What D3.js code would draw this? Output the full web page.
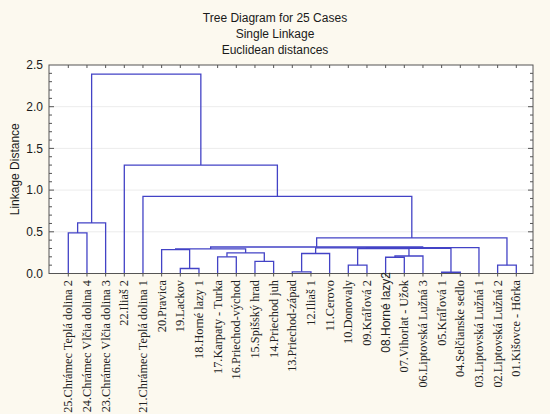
<!DOCTYPE html>
<html><head><meta charset="utf-8">
<script src="https://cdn.jsdelivr.net/npm/d3@7/dist/d3.min.js"></script>
<style>
html,body{margin:0;padding:0;background:#fcf9ef;}
svg{display:block;}
</style></head>
<body>
<svg id="chart" width="550" height="414"></svg>
<script>
// ---- data ----
const titleLines = ["Tree Diagram for 25 Cases", "Single Linkage", "Euclidean distances"];
const yAxisTitle = "Linkage Distance";
const yTicks = [0.0, 0.5, 1.0, 1.5, 2.0, 2.5];
// leaves in display order (left to right)
const leafLabels = [
  "25.Chrámec Teplá dolina 2",
  "24.Chrámec Vlčia dolina 4",
  "23.Chrámec Vlčia dolina 3",
  "22.Iliaš 2",
  "21.Chrámec Teplá dolina 1",
  "20.Pravica",
  "19.Lackov",
  "18.Horné lazy 1",
  "17.Karpaty - Turka",
  "16.Priechod-východ",
  "15.Spišský hrad",
  "14.Priechod  juh",
  "13.Priechod-západ",
  "12.Iliaš 1",
  "11.Cerovo",
  "10.Donovaly",
  "09.Kráľová 2",
  "08.Horné lazy2",
  "07.Vihorlat - Užok",
  "06.Liptovská Lužná 3",
  "05.Kráľová 1",
  "04.Selčianske sedlo",
  "03.Liptovská Lužná 1",
  "02.Liptovská Lužná 2",
  "01.Kišovce - Hôrka"
];
// merges: ids 0..24 are leaves, merge k creates id 25+k
const mergeLeft  = [20,12, 6,15,23,10,17, 8,31,26,32, 5,36,28,38,34,40,37,42, 4, 3, 0,46,47];
const mergeRight = [21,13, 7,16,24,11,18, 9,19,14,30,27,35,33,25,39,22,41,29,43,44, 1, 2,45];
const mergeHeight = [0.015,0.02,0.06,0.10,0.10,0.145,0.195,0.20,0.21,0.24,0.247,0.287,
                     0.295,0.300,0.303,0.307,0.311,0.318,0.427,0.925,1.30,0.487,0.606,2.39];

// ---- layout ----
const svg = d3.select("#chart");
const L = 49, R = 533, T = 65, B = 273.5;
const blue = "#4343c6";

const x = d3.scalePoint().domain(d3.range(leafLabels.length)).range([68.3, 516.3]);
const y = d3.scaleLinear().domain([0, 2.5]).range([B, T]);

// plot background
svg.append("rect").attr("x", L).attr("y", T).attr("width", R - L).attr("height", B - T).attr("fill", "#ffffff");

// gridlines
svg.append("g").selectAll("line").data(yTicks.filter(v => v > 0 && v < 2.5)).join("line")
  .attr("x1", L).attr("x2", R).attr("y1", d => y(d)).attr("y2", d => y(d))
  .attr("stroke", "#ececec").attr("stroke-width", 1);

// titles
svg.append("g").selectAll("text").data(titleLines).join("text")
  .attr("x", 275).attr("y", (d, i) => 22 + i * 16)
  .attr("text-anchor", "middle")
  .attr("font-family", "Liberation Sans, Arial, sans-serif").attr("font-size", 12)
  .attr("fill", "#1a1a1a").text(d => d);

// y axis (left)
const yAxis = d3.axisLeft(y).tickValues(yTicks).tickFormat(d3.format(".1f")).tickSize(0).tickPadding(6);
const gy = svg.append("g").attr("transform", `translate(${L},0)`).call(yAxis);
gy.select(".domain").remove();
gy.selectAll("text").attr("font-family", "Liberation Sans, Arial, sans-serif").attr("font-size", 12).attr("fill", "#1a1a1a");

const minor = d3.range(0, 25).map(i => i / 10);
svg.append("g").selectAll("line").data(minor).join("line")
  .attr("x1", L).attr("x2", d => L + (Math.abs(d * 2 - Math.round(d * 2)) < 1e-6 ? 5 : 3))
  .attr("y1", d => y(d)).attr("y2", d => y(d)).attr("stroke", "#555");
svg.append("g").selectAll("line").data(minor).join("line")
  .attr("x1", R).attr("x2", d => R - (Math.abs(d * 2 - Math.round(d * 2)) < 1e-6 ? 5 : 3))
  .attr("y1", d => y(d)).attr("y2", d => y(d)).attr("stroke", "#555");

// top ticks at leaf positions
svg.append("g").selectAll("line").data(d3.range(leafLabels.length)).join("line")
  .attr("x1", d => x(d)).attr("x2", d => x(d)).attr("y1", T).attr("y2", T + 3).attr("stroke", "#555");
// bottom ticks
svg.append("g").selectAll("line").data(d3.range(leafLabels.length)).join("line")
  .attr("x1", d => x(d)).attr("x2", d => x(d)).attr("y1", B).attr("y2", B + 3).attr("stroke", "#555");

// y axis title
svg.append("text").attr("transform", `translate(19,${(T + B) / 2}) rotate(-90)`)
  .attr("text-anchor", "middle")
  .attr("font-family", "Liberation Sans, Arial, sans-serif").attr("font-size", 12)
  .attr("fill", "#1a1a1a").text(yAxisTitle);

// ---- dendrogram ----
const nodeX = leafLabels.map((_, i) => x(i));
const nodeH = leafLabels.map(() => 0);
const paths = [];
mergeLeft.forEach((a, k) => {
  const b = mergeRight[k], h = mergeHeight[k];
  paths.push({a, b, h});
  nodeX.push((nodeX[a] + nodeX[b]) / 2);
  nodeH.push(h);
});
svg.append("g").selectAll("path").data(paths).join("path")
  .attr("d", d => `M${nodeX[d.a]},${y(nodeH[d.a])}V${y(d.h)}H${nodeX[d.b]}V${y(nodeH[d.b])}`)
  .attr("fill", "none").attr("stroke", blue).attr("stroke-width", 1.3);

// frame
svg.append("rect").attr("x", L).attr("y", T).attr("width", R - L).attr("height", B - T)
  .attr("fill", "none").attr("stroke", "#555").attr("stroke-width", 1);

// leaf labels
svg.append("g").selectAll("text").data(leafLabels).join("text")
  .attr("transform", (d, i) => `translate(${x(i) + 4},${d.startsWith("08.") ? 272 : 280}) rotate(-90)`)
  .attr("text-anchor", "end")
  .attr("font-family", d => d.startsWith("08.") ? "Liberation Sans, Arial, sans-serif" : "Liberation Serif, Times New Roman, serif")
  .attr("font-size", d => d.startsWith("08.") ? 12 : 12.3)
  .attr("fill", "#222").text(d => d);
</script>
</body></html>
